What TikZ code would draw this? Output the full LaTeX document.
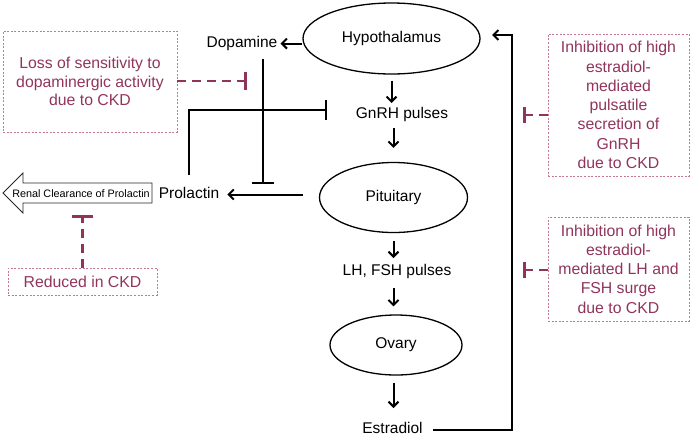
\documentclass[tikz,border=0pt]{standalone}
\usepackage{fontspec}
\setmainfont{Liberation Sans}
\usetikzlibrary{positioning,shapes.geometric,arrows.meta}
\definecolor{ckdred}{RGB}{145,52,92}
\definecolor{ckdline}{RGB}{196,120,152}
\tikzset{
    organ/.style={draw, ellipse, line width=1.3pt, inner sep=0pt,
        font=\fontsize{15.5}{18}\selectfont},
    hormone/.style={inner sep=3pt, text height=11.3pt, text depth=3.3pt,
        font=\fontsize{15.5}{18}\selectfont},
    flow/.style={line width=2pt, -{Straight Barb[length=5pt,width=10pt]}},
    inhibit/.style={line width=2pt, -{Bar[width=#1]}},
    inhibit/.default=20pt,
    ckdnote/.style={draw=ckdline, line width=0.7pt, dash pattern=on 2pt off 1.6pt,
        text=ckdred, align=center, inner sep=0pt},
    ckdcut/.style={draw=ckdred, line width=2.6pt, dash pattern=on 9pt off 6pt,
        -{Bar[width=#1]}},
    ckdcut/.default=18pt
}
\begin{document}
\begin{tikzpicture}[x=1pt, y=-1pt, on grid]
            \useasboundingbox (0,0) rectangle (692,437);
            \node [organ, minimum width=177pt, minimum height=71pt] (hypo) at (391.5,38.5) {Hypothalamus};
            \node [hormone] (dopa) at (242,43.6) {Dopamine};
            \node [hormone, below right=76pt and 10.5pt of hypo] (gnrh) {GnRH pulses};
            \node [organ, minimum width=148pt, minimum height=70pt, below left=83pt and 8.5pt of gnrh] (pit) {Pituitary};
            \node [hormone, above left=3pt and 204.5pt of pit] (prol) {Prolactin};
            \node [hormone, below right=74pt and 3.5pt of pit] (lhfsh) {LH, FSH pulses};
            \node [organ, minimum width=132pt, minimum height=60pt, below left=73.5pt and 1pt of lhfsh] (ovary) {Ovary};
            \node [hormone, below left=84.5pt and 3.5pt of ovary] (estr) {Estradiol};

            \node [ckdnote, minimum width=174pt, minimum height=101pt,
                font=\fontsize{15.8}{18.5}\selectfont] (loss) at (90,81.5)
                {Loss of sensitivity to\\dopaminergic activity\\due to CKD};
            \node [ckdnote, minimum width=149pt, minimum height=27pt,
                font=\fontsize{15.8}{18.5}\selectfont] (reduced) at (82.5,281.5) {Reduced in CKD};
            \node [ckdnote, minimum width=141pt, minimum height=142pt,
                font=\fontsize{15.8}{19.3}\selectfont] (gnrhckd) at (618.5,105)
                {Inhibition of high\\estradiol-\\mediated\\pulsatile\\secretion of\\GnRH\\due to CKD};
            \node [ckdnote, minimum width=141pt, minimum height=104pt,
                font=\fontsize{15.8}{19.3}\selectfont] (lhckd) at (618.5,269)
                {Inhibition of high\\estradiol-\\mediated LH and\\FSH surge\\due to CKD};

            \draw [line width=0.8pt, draw=black!85] (3,193) -- (23,173) -- (23,183) -- (152,183)
                -- (152,203) -- (23,203) -- (23,213) -- cycle;
            \node [inner sep=0pt, font=\fontsize{10.8}{12}\selectfont] (renal) at (81,193.5) {Renal Clearance of Prolactin};

            \coordinate (dopadown) at ([xshift=21pt,yshift=-5pt]dopa.south);
            \coordinate (gnrhcut) at (327,110);
            \coordinate (pitout) at ([xshift=-16pt]pit.west);
            \coordinate (fbtop) at (512,35);
            \coordinate (hypoin) at (492,35);
            \coordinate (dopacut) at (247,81);
            \coordinate (renalcut) at (82.5,215);
            \coordinate (gnrhckdcut) at (523,115);
            \coordinate (lhckdcut) at (523,270);

            \draw [flow] (dopa.east -| hypo.west) -- (dopa.east);
            \draw [inhibit=22pt] (dopadown) -- (dopadown |- prol.north);
            \draw [inhibit] ([yshift=9pt]prol.north) |- (gnrhcut);
            \draw [flow, shorten >=5pt] (prol.east -| pitout) -- (prol.east);
            \draw [flow, shorten <=6pt, shorten >=1pt] (hypo.south) -- (hypo.south |- gnrh.north);
            \draw [flow, shorten <=3pt, shorten >=14pt] (pit.north |- gnrh.south) -- (pit.north);
            \draw [flow, shorten <=8pt, shorten >=3pt] (pit.south) -- (pit.south |- lhfsh.north);
            \draw [flow, shorten <=6pt, shorten >=8pt] (pit.south |- lhfsh.south) -- (pit.south |- ovary.north);
            \draw [flow, shorten <=7pt, shorten >=11pt] (pit.south |- ovary.south) -- (pit.south |- estr.north);
            \draw [flow] ([xshift=7pt]estr.east) -| (fbtop) -- (hypoin);

            \draw [ckdcut] (loss.east |- dopacut) -- (dopacut);
            \draw [ckdcut=21pt] (reduced.north) -- (renalcut);
            \draw [ckdcut=16pt] (gnrhckd.west |- gnrhckdcut) -- (gnrhckdcut);
            \draw [ckdcut=16pt] (lhckd.west |- lhckdcut) -- (lhckdcut);
\end{tikzpicture}
\end{document}
